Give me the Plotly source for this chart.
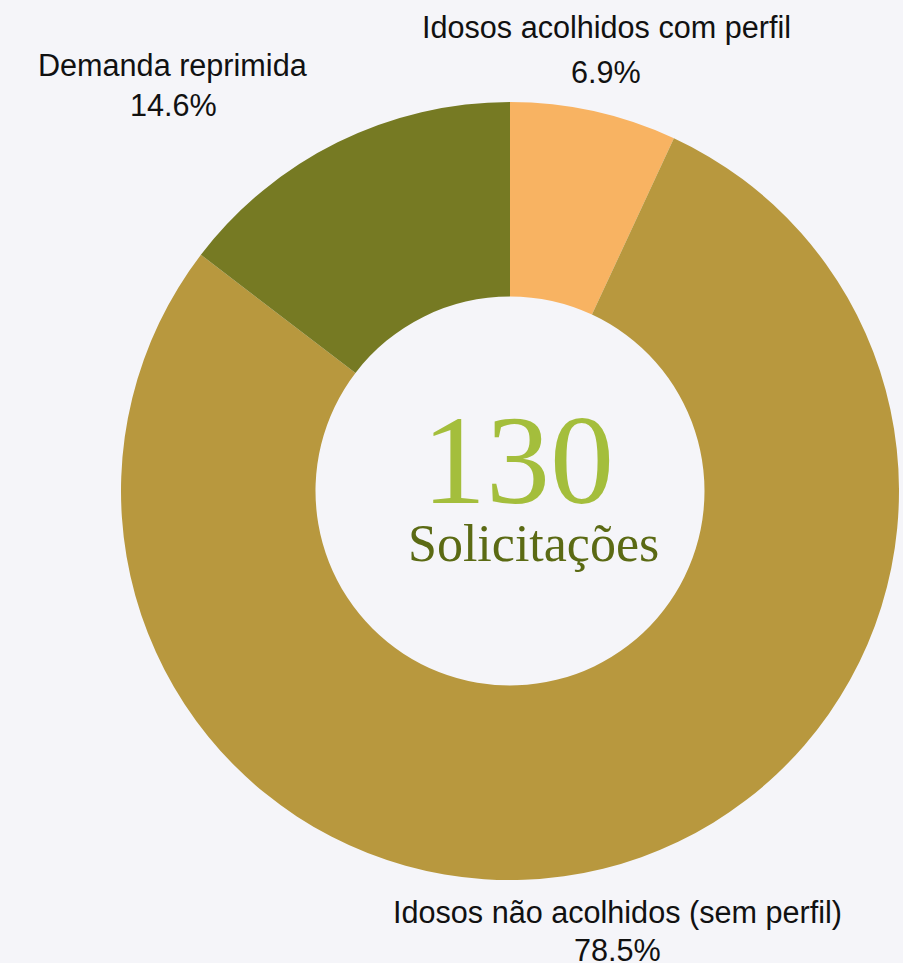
import plotly.graph_objects as go

categories = ["Idosos acolhidos com perfil", "Idosos não acolhidos (sem perfil)", "Demanda reprimida"]
values = [9, 102, 19]
colors = ["#F8B362", "#B8983E", "#767A23"]
total_label = "130"
center_label = "Solicitações"

W, H = 903, 963
total = sum(values)
pcts = [f"{v / total * 100:.1f}%" for v in values]

fig = go.Figure(go.Pie(
    labels=categories,
    values=values,
    hole=0.5,
    sort=False,
    direction="clockwise",
    rotation=0,
    marker=dict(colors=colors, line=dict(width=0)),
    textinfo="none",
    hoverinfo="label+percent",
    showlegend=False,
    domain=dict(x=[121 / W, 899 / W], y=[(H - 880) / H, (H - 102) / H]),
))

# label positions (pixel centers) for each category: name line, percent line
label_pos = [(606, 27, 72), (617, 912, 950), (173, 65, 105)]
annotations = []
for cat, p, (x, y1, y2) in zip(categories, pcts, label_pos):
    for txt, y in ((cat, y1), (p, y2)):
        annotations.append(dict(
            text=txt, x=x / W, y=1 - y / H, xref="paper", yref="paper",
            showarrow=False, xanchor="center", yanchor="middle",
            font=dict(family="Liberation Sans, Arial, sans-serif", size=30.6, color="#111111"),
        ))

annotations.append(dict(
    text=total_label, x=518 / W, y=1 - 460 / H, xref="paper", yref="paper",
    showarrow=False, xanchor="center", yanchor="middle",
    font=dict(family="Liberation Serif, Times New Roman, serif", size=128, color="#A4BE3C"),
))
annotations.append(dict(
    text=center_label, x=533 / W, y=1 - 543 / H, xref="paper", yref="paper",
    showarrow=False, xanchor="center", yanchor="middle",
    font=dict(family="Liberation Serif, Times New Roman, serif", size=52, color="#5B6A14"),
))

fig.update_layout(
    width=W, height=H,
    margin=dict(l=0, r=0, t=0, b=0),
    paper_bgcolor="#F5F5F9",
    plot_bgcolor="#F5F5F9",
    annotations=annotations,
)

fig.write_html(
    "out.html",
    config={"displayModeBar": False},
    post_script="document.body.style.margin='0';document.body.style.overflow='hidden';document.body.style.background='#F5F5F9';",
)
